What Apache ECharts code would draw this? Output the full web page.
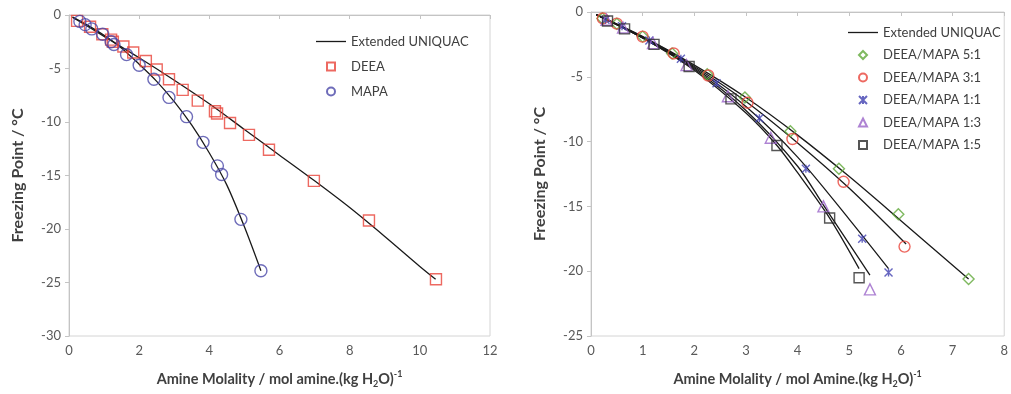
<!DOCTYPE html>
<html><head><meta charset="utf-8">
<script src="https://cdn.jsdelivr.net/npm/echarts@6/dist/echarts.min.js"></script>
<style>html,body{margin:0;padding:0;background:#fff}#c{width:1011px;height:394px}</style>
</head><body><div id="c"></div>
<script>
// ---- Left panel: pure amines ----
const deeaX = [0.23,0.6,0.95,1.2,1.25,1.55,1.83,2.19,2.5,2.85,3.24,3.67,4.16,4.22,4.59,5.13,5.7,6.98,8.55,10.46];
const deeaY = [-0.55,-1.1,-1.8,-2.3,-2.5,-2.95,-3.5,-4.3,-5.1,-6.0,-7.0,-8.0,-9.0,-9.2,-10.1,-11.2,-12.6,-15.5,-19.2,-24.7];
const mapaX = [0.31,0.46,0.65,0.96,1.2,1.28,1.64,2.0,2.42,2.85,3.35,3.82,4.23,4.35,4.9,5.47];
const mapaY = [-0.6,-0.9,-1.3,-1.8,-2.5,-2.75,-3.7,-4.7,-6.0,-7.7,-9.5,-11.9,-14.1,-14.9,-19.1,-23.9];
const deeaModelX = [0.1,1,2,3,4,5,6,7,8,9,10,10.45];
const deeaModelY = [-0.2,-2.0,-4.0,-6.1,-8.3,-10.7,-13.1,-15.5,-18.0,-20.7,-23.5,-24.7];
const mapaModelX = [0.1,0.5,1,1.5,2,2.5,3,3.5,4,4.5,5,5.47];
const mapaModelY = [-0.2,-0.9,-1.9,-3.1,-4.6,-6.2,-8.1,-10.3,-12.9,-15.9,-19.8,-23.9];

// ---- Right panel: DEEA/MAPA blends ----
const r51X = [0.22,0.5,1.0,1.57,2.25,2.98,3.86,4.8,5.95,7.31];
const r51Y = [-0.5,-0.9,-1.9,-3.2,-4.8,-6.6,-9.2,-12.1,-15.6,-20.6];
const r31X = [0.23,0.5,1.0,1.6,2.27,3.03,3.9,4.89,6.07];
const r31Y = [-0.5,-0.9,-1.9,-3.2,-4.9,-7.0,-9.8,-13.1,-18.1];
const r11X = [0.28,0.6,1.13,1.74,2.43,3.26,4.16,5.25,5.76];
const r11Y = [-0.6,-1.1,-2.2,-3.6,-5.5,-8.2,-12.1,-17.5,-20.1];
const r13X = [0.3,0.62,1.2,1.85,2.65,3.48,4.5,5.4];
const r13Y = [-0.6,-1.2,-2.4,-4.1,-6.5,-9.7,-15.0,-21.4];
const r15X = [0.32,0.65,1.22,1.9,2.71,3.6,4.62,5.19];
const r15Y = [-0.7,-1.3,-2.5,-4.2,-6.7,-10.3,-15.9,-20.5];
const m51X = [0.1,1,2,3,4,5,6,7.31];
const m51Y = [-0.2,-1.9,-4.1,-6.6,-9.5,-12.7,-16.1,-20.6];
const m31X = [0.1,1,2,3,4,5,6.1];
const m31Y = [-0.2,-1.9,-4.2,-6.9,-10.1,-13.6,-17.9];
const m11X = [0.1,1,2,3,4,5,5.76];
const m11Y = [-0.2,-2.0,-4.3,-7.3,-11.2,-16.0,-19.8];
const m13X = [0.1,1,2,3,4,4.5,5.4];
const m13Y = [-0.2,-2.0,-4.4,-7.6,-11.9,-14.9,-20.3];
const m15X = [0.1,1,2,3,3.6,4,4.62,5.19];
const m15Y = [-0.2,-2.0,-4.5,-7.8,-10.3,-12.4,-15.9,-19.8];

const leftNames = ['Extended UNIQUAC','DEEA','MAPA'];
const rightNames = ['Extended UNIQUAC','DEEA/MAPA 5:1','DEEA/MAPA 3:1','DEEA/MAPA 1:1','DEEA/MAPA 1:3','DEEA/MAPA 1:5'];

const zip = (xs, ys) => xs.map((x, i) => [x, ys[i]]);
const FONT = 'Lato';
const SYM = {
  star: 'path://M0,0L10,10M10,0L0,10M5,0L5,10',
  rect: 'path://M0,0H10V10H0Z',
  triangle: 'path://M5,0L10,10H0Z',
  diamond: 'path://M5,0L10,5L5,10L0,5Z',
  circle: 'circle',
  line: 'path://M0,0H30V1.3H0Z'
};
const iconOf = {
  'Extended UNIQUAC': SYM.line, 'DEEA': SYM.rect, 'MAPA': SYM.circle,
  'DEEA/MAPA 5:1': SYM.diamond, 'DEEA/MAPA 3:1': SYM.circle, 'DEEA/MAPA 1:1': SYM.star,
  'DEEA/MAPA 1:3': SYM.triangle, 'DEEA/MAPA 1:5': SYM.rect
};
const legendData = names => names.map(n => ({name:n, icon:iconOf[n]}));

function model(xs, ys, idx) {
  return { type:'line', name:'Extended UNIQUAC', xAxisIndex:idx, yAxisIndex:idx,
    data: zip(xs, ys), smooth:0.3, symbol:'none', z:2,
    lineStyle:{color:'#1a1a1a', width:1.3}, itemStyle:{color:'#1a1a1a'} };
}
function pts(name, xs, ys, idx, symbol, color, size) {
  return { type:'scatter', name, xAxisIndex:idx, yAxisIndex:idx, data: zip(xs, ys),
    symbol, symbolSize:size, z:3,
    itemStyle:{color:'rgba(255,255,255,0)', borderColor:color, borderWidth:1.4} };
}
function xAx(idx, max, interval) {
  return { type:'value', gridIndex:idx, min:0, max, interval,
    name: idx === 0 ? '{b|Amine Molality / mol amine.(kg H}{s|2}{b|O)}{p|-1}' : '{b|Amine Molality / mol Amine.(kg H}{s|2}{b|O)}{p|-1}',
    nameLocation:'middle', nameGap:29,
    nameTextStyle:{ rich:{
      b:{fontFamily:FONT, fontWeight:'bold', fontSize:14.5, color:'#404040', lineHeight:17, verticalAlign:'bottom'},
      s:{fontFamily:FONT, fontWeight:'bold', fontSize:9, color:'#404040', lineHeight:12, verticalAlign:'bottom', padding:[0,0,-2,0]},
      p:{fontFamily:FONT, fontWeight:'bold', fontSize:9, color:'#404040', lineHeight:22, verticalAlign:'bottom', padding:[0,0,8,0]}
    }},
    axisLine:{lineStyle:{color:'#c4c4c4'}}, axisTick:{show:true, length:4, lineStyle:{color:'#c4c4c4'}},
    axisLabel:{fontFamily:FONT, fontSize:13, color:'#595959', margin:8},
    splitLine:{show:false} };
}
function yAx(idx, min) {
  return { type:'value', gridIndex:idx, min, max:0, interval:5,
    name:'Freezing Point / °C', nameLocation:'middle', nameGap:43, nameRotate:90,
    nameTextStyle:{fontFamily:FONT, fontWeight:'bold', fontSize:16, color:'#404040'},
    axisLine:{show:true, lineStyle:{color:'#c4c4c4'}}, axisTick:{show:true, length:4, lineStyle:{color:'#c4c4c4'}},
    axisLabel:{fontFamily:FONT, fontSize:13, color:'#595959', margin:8},
    splitLine:{show:false} };
}

const chart = echarts.init(document.getElementById('c'), null, {renderer:'canvas'});
chart.setOption({
  animation:false,
  backgroundColor:'#fff',
  grid:[
    {left:69, top:15, width:421, height:326, show:true, borderColor:'#d4d4d4', borderWidth:1},
    {left:591, top:12, width:419, height:326, show:true, borderColor:'#d4d4d4', borderWidth:1}
  ],
  xAxis:[xAx(0, 12, 2), xAx(1, 8, 1)],
  yAxis:[yAx(0, -30), yAx(1, -25)],
  legend:[
    {data:legendData(leftNames), left:311, top:30, orient:'vertical', itemWidth:30, itemHeight:8, itemGap:12,
     symbolKeepAspect:true,
     textStyle:{fontFamily:FONT, fontSize:13, color:'#404040'}},
    {data:legendData(rightNames), left:843, top:21, orient:'vertical', itemWidth:30, itemHeight:8, itemGap:9.5,
     symbolKeepAspect:true,
     textStyle:{fontFamily:FONT, fontSize:13, color:'#404040'}}
  ],
  series:[
    model(deeaModelX, deeaModelY, 0),
    model(mapaModelX, mapaModelY, 0),
    pts('DEEA', deeaX, deeaY, 0, 'rect', '#e8443a', 11),
    pts('MAPA', mapaX, mapaY, 0, 'circle', '#4a47a8', 12),
    model(m51X, m51Y, 1),
    model(m31X, m31Y, 1),
    model(m11X, m11Y, 1),
    model(m13X, m13Y, 1),
    model(m15X, m15Y, 1),
    pts('DEEA/MAPA 5:1', r51X, r51Y, 1, 'diamond', '#5fa838', 11),
    pts('DEEA/MAPA 3:1', r31X, r31Y, 1, 'circle', '#e8443a', 11),
    pts('DEEA/MAPA 1:1', r11X, r11Y, 1, SYM.star, '#4040b0', 8),
    pts('DEEA/MAPA 1:3', r13X, r13Y, 1, 'triangle', '#9a64c8', 11),
    pts('DEEA/MAPA 1:5', r15X, r15Y, 1, 'rect', '#2a2a2a', 10)
  ]
});
</script></body></html>
